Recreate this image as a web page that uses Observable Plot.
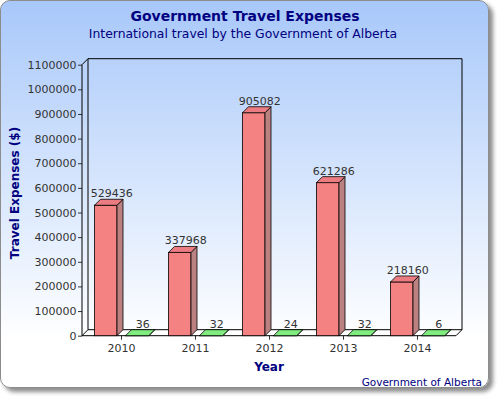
<!DOCTYPE html>
<html><head><meta charset="utf-8">
<script src="https://cdn.jsdelivr.net/npm/d3@7"></script>
<script src="https://cdn.jsdelivr.net/npm/@observablehq/plot@0.6"></script>
<style>
body{margin:0;background:#fff;font-family:"DejaVu Sans",sans-serif;}
#wrap{position:relative;width:500px;height:400px;overflow:hidden;}
#bg{position:absolute;left:0;top:0;width:487px;height:386px;border:1px solid #8c8c8c;border-radius:10px;background:linear-gradient(to bottom,#a8c8fa 0%,#ffffff 88%);box-shadow:4px 4px 4px rgba(0,0,0,0.45);}
.t{position:absolute;white-space:nowrap;color:#000080;}
#title{left:0;width:490px;text-align:center;top:8px;font-weight:bold;font-size:14px;line-height:16px;}
#subtitle{left:0;width:486px;text-align:center;top:27px;font-size:12.4px;line-height:14px;}
#chart{position:absolute;left:0;top:0;}
#ylabel{left:-85px;width:200px;top:185px;text-align:center;font-weight:bold;font-size:12px;line-height:16px;transform:rotate(-90deg);transform-origin:50% 50%;}
#xlabel{left:169px;width:200px;text-align:center;top:360px;font-weight:bold;font-size:12px;line-height:14px;}
#caption{right:18px;top:376px;font-size:10.5px;line-height:12px;}
</style></head>
<body><div id="wrap"><div id="bg"></div>
<div id="title" class="t">Government Travel Expenses</div>
<div id="subtitle" class="t">International travel by the Government of Alberta</div>
<div id="chart"></div>
<div id="ylabel" class="t">Travel Expenses ($)</div>
<div id="xlabel" class="t">Year</div>
<div id="caption" class="t">Government of Alberta</div>
</div>
<script>
const years = ["2010", "2011", "2012", "2013", "2014"];
const expenses = [529436, 337968, 905082, 621286, 218160];
const trips = [36, 32, 24, 32, 6];
const yTicks = [0, 100000, 200000, 300000, 400000, 500000, 600000, 700000, 800000, 900000, 1000000, 1100000];
const yMax = 1100000;

const DX = 6, DY = 6;
const seriesStyle = [
  {name: "expenses", values: expenses, insetLeft: 10.5, insetRight: 41, front: "#f48282", top: "#ea7c82", side: "#bb8080", dx: -9.7},
  {name: "trips", values: trips, insetLeft: 41.5, insetRight: 9.3, front: "#80ec80", top: "#80ec80", side: "#60c060", dx: 21.3}
];
const rows = seriesStyle.map(s => years.map((yr, i) => ({year: yr, value: s.values[i], series: s.name})));

function frame3d(index, scales, values, dims) {
  const y = scales.y;
  const x0 = dims.marginLeft, x1 = dims.width - dims.marginRight;
  const y0 = y(0), yt = y(yMax);
  const g = d3.create("svg:g").attr("fill", "none").attr("stroke", "#000").attr("stroke-width", 1);
  g.append("path").attr("fill", "#fff").attr("d", `M${x0},${y0}L${x0 + DX},${y0 - DY}L${x1 + DX},${y0 - DY}L${x1},${y0}Z`);
  g.append("path").attr("d", `M${x0 + DX},${y0 - DY}V${yt - DY}H${x1 + DX}V${y0 - DY}`);
  g.append("path").attr("d", `M${x0},${y0}V${yt}L${x0 + DX},${yt - DY}`);
  return g.node();
}

function bars3d(index, scales) {
  const {x, y} = scales;
  const bw = x.bandwidth();
  const g = d3.create("svg:g").attr("stroke", "#000").attr("stroke-width", 0.8).attr("stroke-linejoin", "round");
  seriesStyle.forEach(s => years.forEach((yr, i) => {
    const xl = x(yr) + s.insetLeft, xr = x(yr) + bw - s.insetRight;
    const yv = y(s.values[i]), yb = y(0);
    g.append("path").attr("fill", s.side).attr("d", `M${xr},${yb}V${yv}L${xr + DX},${yv - DY}V${yb - DY}Z`);
    g.append("path").attr("fill", s.top).attr("d", `M${xl},${yv}H${xr}L${xr + DX},${yv - DY}H${xl + DX}Z`);
  }));
  return g.node();
}

const chart = Plot.plot({
  width: 500, height: 400,
  marginLeft: 82, marginRight: 44, marginTop: 64.7, marginBottom: 64.3,
  style: {background: "transparent", fontFamily: "DejaVu Sans", fontSize: "11px", color: "#333", overflow: "visible"},
  x: {type: "band", domain: years, padding: 0, tickSize: 4, tickPadding: 4, label: null},
  y: {domain: [0, yMax], ticks: yTicks, tickFormat: d3.format("d"), tickSize: 4, tickPadding: 2, label: null},
  marks: [
    frame3d,
    ...seriesStyle.map((s, k) => Plot.barY(rows[k], {x: "year", y: "value", fill: s.front, stroke: "#000", strokeWidth: 0.8, insetLeft: s.insetLeft, insetRight: s.insetRight})),
    bars3d,
    ...seriesStyle.map((s, k) => Plot.text(rows[k], {x: "year", y: "value", text: d => String(d.value), dx: s.dx, dy: -12, fontSize: 11, fill: "#333"}))
  ]
});
document.getElementById("chart").appendChild(chart);
</script>
</body></html>
